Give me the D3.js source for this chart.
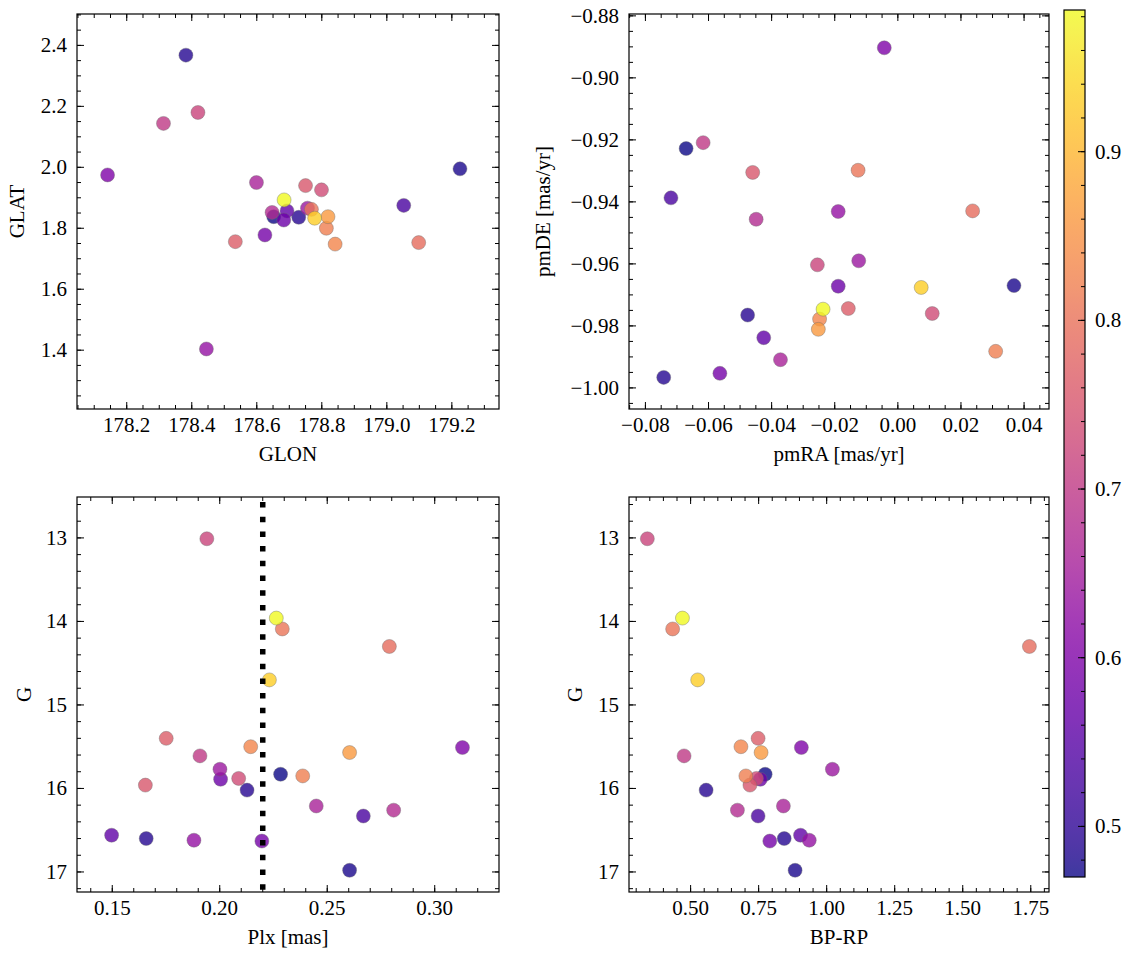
<!DOCTYPE html>
<html>
<head>
<meta charset="utf-8">
<script src="https://cdn.jsdelivr.net/npm/d3@7"></script>
<style>
  html, body { margin: 0; padding: 0; background: #fff; }
</style>
</head>
<body>
<svg id="fig" width="1133" height="959" font-family="'Liberation Serif', 'DejaVu Serif', serif"></svg>
<script>
// ---- data (one entry per star, same order in every array) ----
const glon = [178.652, 179.225, 178.382, 178.729, 179.052, 178.693, 178.683, 178.625, 178.141,
              178.445, 178.756, 178.599, 178.647, 178.313, 178.419, 178.799, 178.750, 178.534,
              179.098, 178.768, 178.814, 178.841, 178.819, 178.778, 178.684];
const glat = [1.838, 1.995, 2.368, 1.836, 1.875, 1.857, 1.827, 1.778, 1.975,
              1.404, 1.866, 1.950, 1.852, 2.144, 2.180, 1.926, 1.940, 1.756,
              1.753, 1.862, 1.800, 1.748, 1.838, 1.833, 1.893];
const pmra = [-0.0671, 0.0368, -0.0742, -0.0476, -0.0719, -0.0425, -0.0189, -0.0564, -0.0043,
              -0.0189, -0.0124, -0.0372, -0.0449, -0.0617, -0.0255, 0.0109, -0.0460, -0.0157,
              0.0237, -0.0126, 0.0310, -0.0248, -0.0252, 0.0074, -0.0237];
const pmde = [-0.9228, -0.9670, -0.9966, -0.9765, -0.9387, -0.9838, -0.9672, -0.9953, -0.8903,
              -0.9431, -0.9590, -0.9909, -0.9456, -0.9209, -0.9603, -0.9760, -0.9305, -0.9744,
              -0.9429, -0.9298, -0.9882, -0.9778, -0.9811, -0.9676, -0.9746];
const plx  = [0.2283, 0.2604, 0.1658, 0.2127, 0.2668, 0.1497, 0.2004, 0.2196, 0.3129,
              0.1880, 0.2001, 0.2449, 0.2809, 0.1908, 0.1940, 0.2088, 0.1654, 0.1751,
              0.2789, 0.2291, 0.2386, 0.2144, 0.2604, 0.2231, 0.2263];
const gmag = [15.83, 16.98, 16.60, 16.02, 16.33, 16.56, 15.89, 16.63, 15.51,
              16.62, 15.77, 16.21, 16.26, 15.61, 13.01, 15.88, 15.96, 15.40,
              14.30, 14.09, 15.85, 15.50, 15.57, 14.70, 13.96];
const bprp = [0.774, 0.884, 0.844, 0.557, 0.748, 0.904, 0.756, 0.791, 0.907,
              0.936, 1.021, 0.841, 0.672, 0.476, 0.341, 0.742, 0.718, 0.748,
              1.745, 0.434, 0.703, 0.685, 0.759, 0.526, 0.470];
const prob = [0.470, 0.480, 0.490, 0.492, 0.530, 0.560, 0.575, 0.585, 0.600,
              0.630, 0.640, 0.660, 0.675, 0.700, 0.720, 0.735, 0.755, 0.765,
              0.790, 0.805, 0.820, 0.830, 0.860, 0.930, 0.984];
const plxCut = 0.22;
const cbTicks = [0.5, 0.6, 0.7, 0.8, 0.9];

// ---- figure ----
const svg = d3.select("#fig");
const FONT = "'Liberation Serif', 'DejaVu Serif', serif";
const color = d3.scaleSequential(d3.interpolatePlasma).domain([0.470, 0.984]);
const stars = d3.range(prob.length).map(i => ({
  glon: glon[i], glat: glat[i], pmra: pmra[i], pmde: pmde[i],
  plx: plx[i], g: gmag[i], bprp: bprp[i], p: prob[i]
}));

const FS = 21;
const MAJ = 7, MIN = 4;

function minorTicks(domain, step) {
  const lo = Math.min(domain[0], domain[1]), hi = Math.max(domain[0], domain[1]);
  const out = [];
  for (let v = Math.ceil(lo / step - 1e-9) * step; v <= hi + 1e-12; v += step) out.push(+v.toFixed(10));
  return out;
}

function panel(cfg) {
  const g = svg.append("g");
  const x = d3.scaleLinear().domain(cfg.xd).range([cfg.x0, cfg.x1]);
  const y = d3.scaleLinear().domain(cfg.yd).range([cfg.y1, cfg.y0]);
  const clipId = "clip_" + cfg.xk + "_" + cfg.yk;
  svg.append("clipPath").attr("id", clipId).append("rect")
    .attr("x", cfg.x0).attr("y", cfg.y0).attr("width", cfg.x1 - cfg.x0).attr("height", cfg.y1 - cfg.y0);

  const pts = g.append("g").attr("clip-path", `url(#${clipId})`);
  pts.selectAll("circle").data(stars).join("circle")
    .attr("cx", d => x(d[cfg.xk])).attr("cy", d => y(d[cfg.yk])).attr("r", 7)
    .attr("fill", d => color(d.p)).attr("fill-opacity", 0.8)
    .attr("stroke", "#6e6e6e").attr("stroke-width", 0.5).attr("stroke-opacity", 0.8);

  if (cfg.vline !== undefined) {
    pts.append("line")
      .attr("x1", x(cfg.vline)).attr("x2", x(cfg.vline))
      .attr("y1", cfg.y0).attr("y2", cfg.y1)
      .attr("stroke", "#000").attr("stroke-width", 5.5)
      .attr("stroke-dasharray", "5.5,9.2").attr("stroke-dashoffset", -5);
  }

  const xMaj = cfg.xMaj.filter(v => v >= Math.min(...cfg.xd) && v <= Math.max(...cfg.xd));
  const yMaj = cfg.yMaj.filter(v => v >= Math.min(...cfg.yd) && v <= Math.max(...cfg.yd));
  const xMin = minorTicks(cfg.xd, cfg.xMinStep);
  const yMin = minorTicks(cfg.yd, cfg.yMinStep);
  const tk = g.append("g").attr("stroke", "#000").attr("stroke-width", 1);
  function xt(vals, len) {
    vals.forEach(v => {
      const px = x(v);
      tk.append("line").attr("x1", px).attr("x2", px).attr("y1", cfg.y1).attr("y2", cfg.y1 - len);
      tk.append("line").attr("x1", px).attr("x2", px).attr("y1", cfg.y0).attr("y2", cfg.y0 + len);
    });
  }
  function yt(vals, len) {
    vals.forEach(v => {
      const py = y(v);
      tk.append("line").attr("y1", py).attr("y2", py).attr("x1", cfg.x0).attr("x2", cfg.x0 + len);
      tk.append("line").attr("y1", py).attr("y2", py).attr("x1", cfg.x1).attr("x2", cfg.x1 - len);
    });
  }
  xt(xMin, MIN); yt(yMin, MIN); xt(xMaj, MAJ); yt(yMaj, MAJ);

  g.append("rect").attr("x", cfg.x0).attr("y", cfg.y0)
    .attr("width", cfg.x1 - cfg.x0).attr("height", cfg.y1 - cfg.y0)
    .attr("fill", "none").attr("stroke", "#000").attr("stroke-width", 1.2);

  const xf = d3.format(cfg.xFmt), yf = d3.format(cfg.yFmt);
  g.selectAll(".xl").data(xMaj).join("text")
    .attr("font-family", FONT)
    .attr("x", d => x(d)).attr("y", cfg.y1 + 23).attr("text-anchor", "middle")
    .attr("font-size", FS).text(d => xf(d));
  g.selectAll(".yl").data(yMaj).join("text")
    .attr("font-family", FONT)
    .attr("x", cfg.x0 - 10).attr("y", d => y(d)).attr("dy", "0.33em").attr("text-anchor", "end")
    .attr("font-size", FS).text(d => yf(d));

  g.append("text").attr("font-family", FONT).attr("x", (cfg.x0 + cfg.x1) / 2).attr("y", cfg.y1 + 52)
    .attr("text-anchor", "middle").attr("font-size", FS).text(cfg.xLabel);
  g.append("text").attr("font-family", FONT)
    .attr("transform", `translate(${cfg.yLabX},${(cfg.y0 + cfg.y1) / 2}) rotate(-90)`)
    .attr("text-anchor", "middle").attr("dy", "0.33em").attr("font-size", FS).text(cfg.yLabel);
}

panel({ x0: 77, x1: 499, y0: 14, y1: 409, xk: "glon", yk: "glat",
  xd: [178.047, 179.345], yd: [1.207, 2.503],
  xMaj: [178.2, 178.4, 178.6, 178.8, 179.0, 179.2], yMaj: [1.4, 1.6, 1.8, 2.0, 2.2, 2.4],
  xMinStep: 0.05, yMinStep: 0.05, xFmt: ".1f", yFmt: ".1f",
  xLabel: "GLON", yLabel: "GLAT", yLabX: 17 });

panel({ x0: 629, x1: 1049, y0: 14, y1: 409, xk: "pmra", yk: "pmde",
  xd: [-0.0852, 0.0479], yd: [-1.0068, -0.8794],
  xMaj: [-0.08, -0.06, -0.04, -0.02, 0, 0.02, 0.04], yMaj: [-1.0, -0.98, -0.96, -0.94, -0.92, -0.90, -0.88],
  xMinStep: 0.005, yMinStep: 0.005, xFmt: ".2f", yFmt: ".2f",
  xLabel: "pmRA [mas/yr]", yLabel: "pmDE [mas/yr]", yLabX: 543 });

panel({ x0: 77, x1: 499, y0: 497, y1: 892, xk: "plx", yk: "g",
  xd: [0.1336, 0.3299], yd: [17.24, 12.51],
  xMaj: [0.15, 0.20, 0.25, 0.30], yMaj: [13, 14, 15, 16, 17],
  xMinStep: 0.01, yMinStep: 0.2, xFmt: ".2f", yFmt: "d",
  xLabel: "Plx [mas]", yLabel: "G", yLabX: 24, vline: plxCut });

panel({ x0: 629, x1: 1049, y0: 497, y1: 892, xk: "bprp", yk: "g",
  xd: [0.2736, 1.817], yd: [17.24, 12.51],
  xMaj: [0.5, 0.75, 1.0, 1.25, 1.5, 1.75], yMaj: [13, 14, 15, 16, 17],
  xMinStep: 0.05, yMinStep: 0.2, xFmt: ".2f", yFmt: "d",
  xLabel: "BP-RP", yLabel: "G", yLabX: 575 });

// ---- colorbar ----
const cb = { x0: 1064, x1: 1085, y0: 10, y1: 877 };
const cy = d3.scaleLinear().domain(color.domain()).range([cb.y1, cb.y0]);
const grad = svg.append("defs").append("linearGradient").attr("id", "cbgrad")
  .attr("x1", 0).attr("y1", 1).attr("x2", 0).attr("y2", 0);
d3.range(0, 1.0001, 0.02).forEach(t => {
  grad.append("stop").attr("offset", t).attr("stop-color", d3.interpolatePlasma(t));
});
svg.append("rect").attr("x", cb.x0).attr("y", cb.y0).attr("width", cb.x1 - cb.x0).attr("height", cb.y1 - cb.y0)
  .attr("fill", "url(#cbgrad)").attr("fill-opacity", 0.8);
const cbt = svg.append("g").attr("stroke", "#000").attr("stroke-width", 1);
minorTicks(color.domain(), 0.02).forEach(v => {
  cbt.append("line").attr("x1", cb.x1).attr("x2", cb.x1 - MIN).attr("y1", cy(v)).attr("y2", cy(v));
});
cbTicks.forEach(v => {
  cbt.append("line").attr("x1", cb.x1).attr("x2", cb.x1 - MAJ).attr("y1", cy(v)).attr("y2", cy(v));
});
svg.append("rect").attr("x", cb.x0).attr("y", cb.y0).attr("width", cb.x1 - cb.x0).attr("height", cb.y1 - cb.y0)
  .attr("fill", "none").attr("stroke", "#000").attr("stroke-width", 1.2);
svg.selectAll(".cbl").data(cbTicks).join("text")
  .attr("font-family", FONT)
  .attr("x", cb.x1 + 10).attr("y", d => cy(d)).attr("dy", "0.33em")
  .attr("font-size", FS).text(d => d3.format(".1f")(d));
</script>
</body>
</html>
